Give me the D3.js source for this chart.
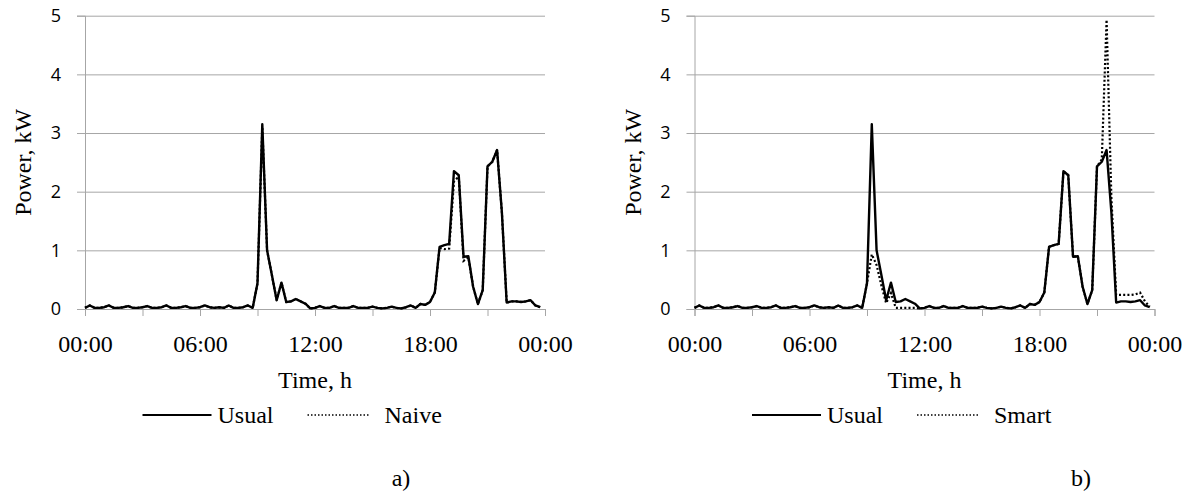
<!DOCTYPE html>
<html>
<head>
<meta charset="utf-8">
<script src="https://cdn.jsdelivr.net/npm/d3@7"></script>
<style>
  html, body { margin: 0; padding: 0; background: #ffffff; }
  svg { display: block; }
</style>
</head>
<body>
<svg id="chart" width="1193" height="492"></svg>
<script>
// ---- data (15-minute steps, 00:00 .. 23:45) ----
const usual = [
  0.02,0.06,0.02,0.02,0.03,0.06,0.02,0.02,0.03,0.05,0.02,0.02,
  0.03,0.05,0.02,0.02,0.03,0.06,0.02,0.02,0.03,0.05,0.02,0.02,
  0.03,0.06,0.03,0.02,0.03,0.02,0.06,0.02,0.02,0.03,0.06,0.02,
  0.44,3.15,1.00,0.58,0.15,0.45,0.12,0.13,0.17,0.13,0.09,0.01,
  0.02,0.05,0.02,0.02,0.05,0.02,0.02,0.02,0.05,0.02,0.02,0.02,
  0.04,0.02,0.01,0.02,0.04,0.02,0.01,0.03,0.06,0.02,0.085,0.07,
  0.12,0.28,1.06,1.09,1.11,2.35,2.28,0.89,0.90,0.38,0.085,0.32,
  2.43,2.51,2.71,1.65,0.11,0.13,0.13,0.12,0.13,0.15,0.06,0.03
];
const naive = [
  0.02,0.06,0.02,0.02,0.03,0.06,0.02,0.02,0.03,0.05,0.02,0.02,
  0.03,0.05,0.02,0.02,0.03,0.06,0.02,0.02,0.03,0.05,0.02,0.02,
  0.03,0.06,0.03,0.02,0.03,0.02,0.06,0.02,0.02,0.03,0.06,0.02,
  0.44,3.10,1.00,0.58,0.15,0.45,0.12,0.13,0.17,0.13,0.09,0.01,
  0.02,0.05,0.02,0.02,0.05,0.02,0.02,0.02,0.05,0.02,0.02,0.02,
  0.04,0.02,0.01,0.02,0.04,0.02,0.01,0.03,0.06,0.02,0.085,0.07,
  0.12,0.28,1.04,1.02,1.03,2.17,2.26,0.82,0.88,0.38,0.085,0.32,
  2.43,2.51,2.71,1.65,0.11,0.13,0.13,0.12,0.13,0.15,0.06,0.03
];
const smart = [
  0.02,0.06,0.02,0.02,0.03,0.06,0.02,0.02,0.03,0.05,0.02,0.02,
  0.03,0.05,0.02,0.02,0.03,0.06,0.02,0.02,0.03,0.05,0.02,0.02,
  0.03,0.06,0.03,0.02,0.03,0.02,0.06,0.02,0.02,0.03,0.06,0.02,
  0.44,0.93,0.75,0.40,0.10,0.27,0.02,0.02,0.02,0.02,0.02,0.01,
  0.02,0.05,0.02,0.02,0.05,0.02,0.02,0.02,0.05,0.02,0.02,0.02,
  0.04,0.02,0.01,0.02,0.04,0.02,0.01,0.03,0.06,0.02,0.085,0.07,
  0.12,0.28,1.06,1.09,1.11,2.35,2.28,0.89,0.90,0.38,0.085,0.32,
  2.43,2.55,4.93,1.90,0.24,0.24,0.24,0.24,0.25,0.28,0.13,0.04
];
const hours = d3.range(0, 24, 0.25);           // time of each sample, h
const xTickHours = [0, 3, 6, 9, 12, 15, 18, 21, 24];
const xTickLabels = {0: "00:00", 6: "06:00", 12: "12:00", 18: "18:00", 24: "00:00"};
const yTicks = [0, 1, 2, 3, 4, 5];
const panels = [
  { left: 85,    second: naive, secondName: "Naive", tag: "a)", tagX: 401 },
  { left: 694.5, second: smart, secondName: "Smart", tag: "b)", tagX: 1081 }
];

// ---- drawing ----
const svg = d3.select("#chart");
const W = 460, TOP = 15.7, BOTTOM = 309;
const serif = "'Liberation Serif','Times New Roman',serif";
const grey = "#a6a6a6";

panels.forEach(p => {
  const x = d3.scaleLinear().domain([0, 24]).range([p.left, p.left + W]);
  const y = d3.scaleLinear().domain([0, 5]).range([BOTTOM, TOP]);
  const g = svg.append("g");

  // gridlines + y ticks
  const ya = g.append("g").attr("transform", `translate(${p.left},0)`)
    .call(d3.axisLeft(y).tickValues(yTicks).tickSize(8).tickPadding(16).tickFormat(d3.format("d")));
  ya.select(".domain").attr("stroke", grey);
  ya.selectAll(".tick line").attr("stroke", grey).attr("x2", W).attr("x1", -8);
  ya.selectAll(".tick text").attr("font-family", "'Open Sans','Liberation Sans',sans-serif")
    .attr("font-size", 18).attr("fill", "#000");

  // x axis
  const xa = g.append("g").attr("transform", `translate(0,${BOTTOM})`)
    .call(d3.axisBottom(x).tickValues(xTickHours).tickSize(7).tickPadding(14)
      .tickFormat(d => xTickLabels[d] || ""));
  xa.select(".domain").attr("stroke", grey);
  xa.selectAll(".tick line").attr("stroke", grey);
  xa.selectAll(".tick text").attr("font-family", serif).attr("font-size", 24).attr("fill", "#000")
    .attr("dy", null).attr("y", 43);

  // y title
  g.append("text").attr("transform", `translate(${p.left - 54},${(TOP + BOTTOM) / 2}) rotate(-90)`)
    .attr("text-anchor", "middle").attr("font-family", serif).attr("font-size", 24).text("Power, kW");
  // x title
  g.append("text").attr("x", p.left + W / 2).attr("y", 388).attr("text-anchor", "middle")
    .attr("font-family", serif).attr("font-size", 24).text("Time, h");

  const line = d3.line().x((d, i) => x(hours[i])).y(d => y(d));
  g.append("path").datum(usual).attr("d", line).attr("fill", "none")
    .attr("stroke", "#000").attr("stroke-width", 2.4).attr("stroke-linejoin", "round");
  g.append("path").datum(p.second).attr("d", line).attr("fill", "none")
    .attr("stroke", "#000").attr("stroke-width", 2.2).attr("stroke-dasharray", "2,2.2");

  // legend
  const L = p.left + 57.5, LY = 415;
  g.append("line").attr("x1", L).attr("x2", L + 69).attr("y1", LY).attr("y2", LY)
    .attr("stroke", "#000").attr("stroke-width", 2);
  g.append("text").attr("x", L + 75).attr("y", LY + 8).attr("font-family", serif).attr("font-size", 24).text("Usual");
  g.append("line").attr("x1", L + 165).attr("x2", L + 228).attr("y1", LY).attr("y2", LY)
    .attr("stroke", "#000").attr("stroke-width", 1.5).attr("stroke-dasharray", "1.5,2");
  g.append("text").attr("x", L + 242).attr("y", LY + 8).attr("font-family", serif).attr("font-size", 24).text(p.secondName);

  svg.append("text").attr("x", p.tagX).attr("y", 486).attr("text-anchor", "middle")
    .attr("font-family", serif).attr("font-size", 24).text(p.tag);
});
</script>
</body>
</html>
